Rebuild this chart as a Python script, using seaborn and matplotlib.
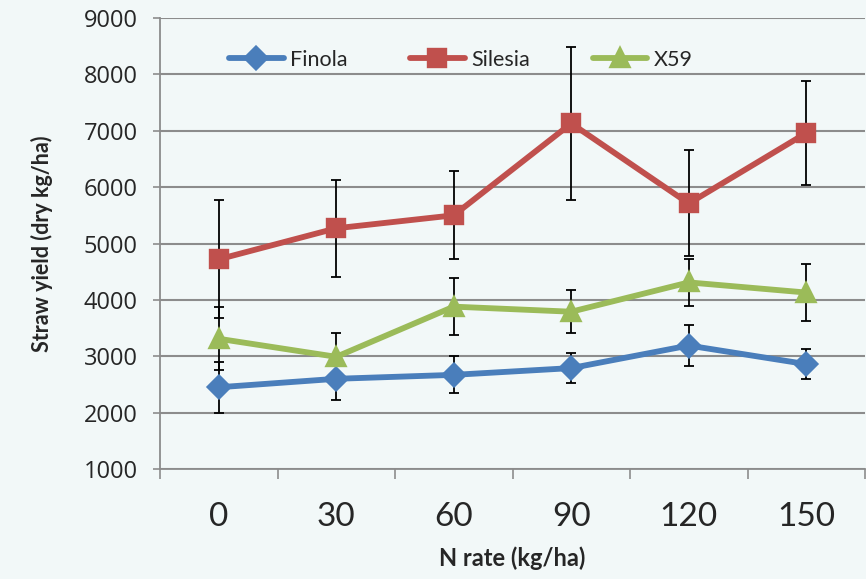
import numpy as np
import pandas as pd
import matplotlib
matplotlib.use("Agg")
import matplotlib.pyplot as plt
from matplotlib.ticker import FixedLocator
import seaborn as sns

# ---- data ----
n_rates = ["0", "30", "60", "90", "120", "150"]
varieties = ["Finola", "Silesia", "X59"]
finola = [2450, 2600, 2670, 2790, 3190, 2860]
finola_err = [450, 370, 330, 260, 360, 270]
silesia = [4720, 5270, 5500, 7130, 5710, 6960]
silesia_err = [1050, 860, 780, 1350, 940, 930]
x59 = [3310, 2990, 3880, 3790, 4310, 4130]
x59_err = [560, 430, 500, 380, 410, 500]

colors = ["#4A7EBB", "#C0504D", "#9BBB59"]
markers = ["D", "s", "^"]
values = [finola, silesia, x59]
errors = [finola_err, silesia_err, x59_err]

df = pd.DataFrame({
    "N rate": n_rates * 3,
    "yield": finola + silesia + x59,
    "variety": sum([[v] * len(n_rates) for v in varieties], []),
})

sns.set_theme(style="white")
plt.rcParams["font.family"] = ["Lato", "DejaVu Sans"]

bg = "#f2f8f8"
fig = plt.figure(figsize=(8.66, 5.79), dpi=100, facecolor=bg)
ax = fig.add_axes([160 / 866, 110 / 579, 705 / 866, 451 / 579])
ax.set_facecolor("none")

# error bars (behind markers)
pos = np.arange(len(n_rates))
for vals, errs in zip(values, errors):
    ax.errorbar(pos, vals, yerr=errs, fmt="none", ecolor="black",
                elinewidth=1.3, capsize=3.6, capthick=1.3, zorder=3)

sns.pointplot(data=df, x="N rate", y="yield", hue="variety",
              order=n_rates, hue_order=varieties, palette=colors,
              markers=markers, linestyles="-", errorbar=None,
              markersize=12, linewidth=4.2, ax=ax)
for ln in ax.lines:
    ln.set_zorder(4)
    if ln.get_marker() == "D":
        ln.set_markersize(10)

ax.set_xlim(-0.5, len(n_rates) - 0.5)
ax.set_ylim(1000, 9000)
ax.set_yticks(np.arange(1000, 9001, 1000))
ax.yaxis.grid(True, color="#8c8c8c", linewidth=1.5)
ax.set_axisbelow(True)

for s in ["top", "right"]:
    ax.spines[s].set_visible(False)
for s in ["left", "bottom"]:
    ax.spines[s].set_color("#8c8c8c")
    ax.spines[s].set_linewidth(1.3)

ax.tick_params(axis="y", which="major", length=5, width=1.2, color="#8c8c8c",
               direction="out", pad=11, labelsize=17, left=True)
for lab in ax.get_yticklabels():
    lab.set_fontfamily(["Open Sans", "DejaVu Sans"])
ax.xaxis.set_minor_locator(FixedLocator(np.arange(-0.5, len(n_rates), 1.0)))
ax.tick_params(axis="x", which="minor", length=7, width=1.2, color="#8c8c8c",
               direction="out", bottom=True)
ax.tick_params(axis="x", which="major", length=0, pad=24, labelsize=24)

ax.set_xlabel("N rate (kg/ha)", fontsize=17, fontweight="bold", labelpad=10)
ax.set_ylabel("Straw yield (dry kg/ha)", fontsize=15.5, fontweight="bold", labelpad=22)

handles, labels = ax.get_legend_handles_labels()
for h in handles:
    if h.get_marker() == "D":
        h.set_markersize(10)
leg = ax.legend(handles, labels, loc="center left", bbox_to_anchor=(0.07, 0.907),
                ncol=3, frameon=False, fontsize=15.5, handlelength=2.55,
                handletextpad=0.3, columnspacing=2.9)

fig.savefig("out.png", dpi=100, facecolor=bg)
